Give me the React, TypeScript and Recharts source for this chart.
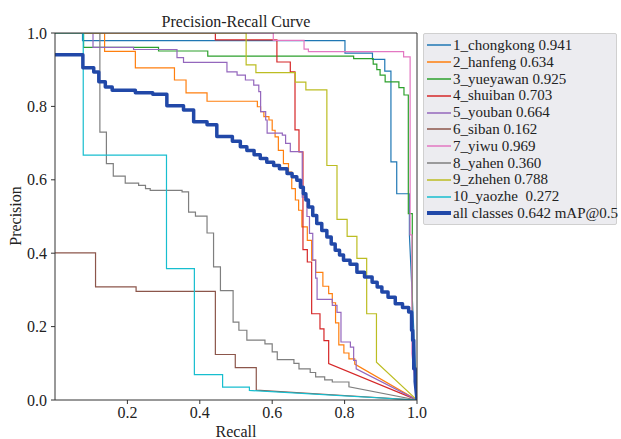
import { LineChart, Line, XAxis, YAxis, ReferenceLine } from 'recharts';

const FONT = "'Liberation Serif', 'DejaVu Serif', serif";

// class names + AP@0.5 as printed in the legend
const classNames = [
  '1_chongkong', '2_hanfeng', '3_yueyawan', '4_shuiban', '5_youban',
  '6_siban', '7_yiwu', '8_yahen', '9_zhehen', '10_yaozhe',
];
const apValues = ['0.941', '0.634', '0.925', '0.703', '0.664', '0.162', '0.969', '0.360', '0.788', '0.272'];
const mapAll = '0.642';

const COLORS = [
  '#1f77b4', '#ff7f0e', '#2ca02c', '#d62728', '#9467bd',
  '#8c564b', '#e377c2', '#7f7f7f', '#bcbd22', '#17becf',
];
const ALL_COLOR = '#2148a8';

// each curve: recall where precision steps down, and the precision after the step
const chongkongRecall = [0, 0.076, 0.801, 0.877, 0.911, 0.928, 0.944, 0.979];
const chongkongPrecision = [1, 0.979, 0.945, 0.928, 0.896, 0.649, 0.562, 0.45];

const hanfengRecall = [0, 0.137, 0.222, 0.330, 0.362, 0.420, 0.559, 0.568, 0.577, 0.591, 0.600, 0.608, 0.617, 0.631, 0.645, 0.654, 0.664, 0.673, 0.682, 0.697, 0.709, 0.720, 0.740, 0.756, 0.766, 0.775, 0.784, 0.798, 0.812, 0.828];
const hanfengPrecision = [1, 0.950, 0.905, 0.872, 0.837, 0.814, 0.799, 0.786, 0.772, 0.763, 0.735, 0.717, 0.680, 0.644, 0.621, 0.576, 0.545, 0.517, 0.472, 0.435, 0.381, 0.348, 0.310, 0.290, 0.265, 0.210, 0.150, 0.128, 0.112, 0.098];

const yueyawanRecall = [0, 0.079, 0.286, 0.422, 0.825, 0.879, 0.889, 0.898, 0.912, 0.950, 0.964, 0.976, 0.987];
const yueyawanPrecision = [1, 0.961, 0.951, 0.937, 0.930, 0.915, 0.900, 0.885, 0.867, 0.851, 0.831, 0.508, 0.176];

const shuibanRecall = [0, 0.443, 0.613, 0.650, 0.663, 0.674, 0.685, 0.697, 0.709, 0.732, 0.743, 0.756];
const shuibanPrecision = [1, 0.981, 0.921, 0.894, 0.736, 0.676, 0.410, 0.376, 0.235, 0.194, 0.162, 0.099];

const youbanRecall = [0, 0.105, 0.217, 0.337, 0.355, 0.475, 0.503, 0.526, 0.549, 0.563, 0.568, 0.582, 0.586, 0.628, 0.637, 0.650, 0.683, 0.696, 0.703, 0.712, 0.720, 0.724, 0.766, 0.779, 0.790, 0.816, 0.825, 0.832];
const youbanPrecision = [1, 0.961, 0.955, 0.933, 0.920, 0.894, 0.885, 0.872, 0.858, 0.840, 0.786, 0.763, 0.727, 0.722, 0.699, 0.677, 0.553, 0.500, 0.454, 0.381, 0.332, 0.274, 0.258, 0.239, 0.158, 0.144, 0.108, 0.085];

const sibanRecall = [0, 0.112, 0.224, 0.443, 0.498, 0.556];
const sibanPrecision = [0.401, 0.308, 0.296, 0.124, 0.088, 0.027];

const yiwuRecall = [0, 0.603, 0.688, 0.700, 0.963, 0.981, 0.986];
const yiwuPrecision = [1, 0.980, 0.956, 0.949, 0.935, 0.450, 0.126];

const yahenRecall = [0, 0.124, 0.142, 0.161, 0.194, 0.231, 0.250, 0.263, 0.351, 0.369, 0.388, 0.420, 0.438, 0.457, 0.492, 0.508, 0.530, 0.580, 0.600, 0.614, 0.660, 0.674, 0.705, 0.720, 0.745, 0.766, 0.812];
const yahenPrecision = [1, 0.730, 0.644, 0.610, 0.591, 0.585, 0.576, 0.571, 0.567, 0.512, 0.501, 0.455, 0.363, 0.298, 0.212, 0.190, 0.163, 0.153, 0.131, 0.110, 0.100, 0.085, 0.075, 0.063, 0.055, 0.049, 0.036];

const zhehenRecall = [0, 0.528, 0.555, 0.664, 0.693, 0.751, 0.779, 0.807, 0.834, 0.861, 0.888];
const zhehenPrecision = [1, 0.913, 0.892, 0.866, 0.845, 0.639, 0.492, 0.446, 0.386, 0.235, 0.103];

const yaozheRecall = [0, 0.078, 0.308, 0.385, 0.463, 0.537];
const yaozhePrecision = [1, 0.667, 0.358, 0.069, 0.035, 0.026];

const allRecall = [0, 0.077, 0.107, 0.121, 0.139, 0.158, 0.222, 0.270, 0.309, 0.355, 0.383, 0.420, 0.447, 0.490, 0.512, 0.530, 0.550, 0.567, 0.585, 0.604, 0.620, 0.641, 0.655, 0.668, 0.678, 0.686, 0.693, 0.700, 0.712, 0.723, 0.737, 0.751, 0.763, 0.774, 0.786, 0.797, 0.815, 0.834, 0.855, 0.876, 0.890, 0.903, 0.920, 0.940, 0.960, 0.977, 0.985, 0.988, 0.991, 0.995];
const allPrecision = [0.941, 0.905, 0.894, 0.867, 0.853, 0.844, 0.837, 0.833, 0.802, 0.790, 0.758, 0.750, 0.718, 0.705, 0.690, 0.680, 0.668, 0.658, 0.648, 0.639, 0.630, 0.617, 0.608, 0.599, 0.580, 0.562, 0.545, 0.526, 0.503, 0.481, 0.462, 0.444, 0.425, 0.408, 0.395, 0.381, 0.370, 0.348, 0.335, 0.321, 0.308, 0.294, 0.280, 0.262, 0.252, 0.240, 0.190, 0.163, 0.085, 0.050];

const xTicks = [0.2, 0.4, 0.6, 0.8, 1.0];
const yTicks = [0, 0.2, 0.4, 0.6, 0.8, 1.0];

// turn step breakpoints into polyline vertices, ending at (1, 0) like the yolo plot
const toSteps = (recall: number[], precision: number[]) => {
  const pts: { r: number; p: number }[] = [];
  recall.forEach((r, i) => {
    if (i > 0) pts.push({ r, p: precision[i - 1] });
    pts.push({ r, p: precision[i] });
  });
  pts.push({ r: 1, p: 0 });
  return pts;
};

const classCurves = [
  toSteps(chongkongRecall, chongkongPrecision),
  toSteps(hanfengRecall, hanfengPrecision),
  toSteps(yueyawanRecall, yueyawanPrecision),
  toSteps(shuibanRecall, shuibanPrecision),
  toSteps(youbanRecall, youbanPrecision),
  toSteps(sibanRecall, sibanPrecision),
  toSteps(yiwuRecall, yiwuPrecision),
  toSteps(yahenRecall, yahenPrecision),
  toSteps(zhehenRecall, zhehenPrecision),
  toSteps(yaozheRecall, yaozhePrecision),
];
const allCurve = toSteps(allRecall, allPrecision);

const legendItems = [
  ...classNames.map((n, i) => ({
    label: n === '10_yaozhe' ? `${n}  ${apValues[i]}` : `${n} ${apValues[i]}`,
    color: COLORS[i],
    width: 1.5,
  })),
  { label: `all classes ${mapAll} mAP@0.5`, color: ALL_COLOR, width: 4 },
];

const RecallLabel = () => (
  <text x={236} y={437} textAnchor="middle" fontSize={16} fill="#222" fontFamily={FONT}>
    Recall
  </text>
);

const PrecisionLabel = () => (
  <text transform="translate(21,216) rotate(-90)" textAnchor="middle" fontSize={16} fill="#222" fontFamily={FONT}>
    Precision
  </text>
);

const App = () => {
  return (
    <div style={{ position: 'absolute', left: 0, top: 0, width: 621, height: 439, background: '#fff', fontFamily: FONT }}>
      <div style={{ position: 'absolute', left: 55, width: 362, top: 13, textAlign: 'center', fontSize: 16, lineHeight: '18px', color: '#222' }}>
        Precision-Recall Curve
      </div>

      <LineChart width={621} height={439} margin={{ top: 33, right: 204, bottom: 0, left: 5 }}>
        <XAxis
          type="number"
          dataKey="r"
          domain={[0, 1]}
          ticks={xTicks}
          tickFormatter={(v: number) => v.toFixed(1)}
          height={39}
          tickSize={4}
          tickMargin={3}
          axisLine={{ stroke: '#333' }}
          tickLine={{ stroke: '#333' }}
          tick={{ fill: '#222', fontSize: 16, fontFamily: FONT }}
          allowDataOverflow
          label={RecallLabel}
        />
        <YAxis
          type="number"
          dataKey="p"
          domain={[0, 1]}
          ticks={yTicks}
          tickFormatter={(v: number) => v.toFixed(1)}
          width={50}
          tickSize={4}
          tickMargin={4}
          axisLine={{ stroke: '#333' }}
          tickLine={{ stroke: '#333' }}
          tick={{ fill: '#222', fontSize: 16, fontFamily: FONT }}
          allowDataOverflow
          label={PrecisionLabel}
        />
        {classCurves.map((pts, i) => (
          <Line
            key={classNames[i]}
            data={pts}
            dataKey="p"
            type="linear"
            stroke={COLORS[i]}
            strokeWidth={1.2}
            dot={false}
            activeDot={false}
            isAnimationActive={false}
          />
        ))}
        <Line
          data={allCurve}
          dataKey="p"
          type="linear"
          stroke={ALL_COLOR}
          strokeWidth={3.5}
          strokeLinejoin="round"
          dot={false}
          activeDot={false}
          isAnimationActive={false}
        />
        <ReferenceLine y={1} stroke="#333" strokeWidth={1} />
        <ReferenceLine x={1} stroke="#333" strokeWidth={1} />
      </LineChart>

      <div
        style={{
          position: 'absolute',
          left: 423,
          top: 33,
          width: 194,
          height: 192,
          boxSizing: 'border-box',
          background: '#ececf0',
          border: '1px solid #d0d0d0',
          borderRadius: 2,
          paddingTop: 3,
        }}
      >
        {legendItems.map((item) => (
          <div key={item.label} style={{ display: 'flex', alignItems: 'center', height: 16.8, whiteSpace: 'pre' }}>
            <svg width={28} height={10} style={{ flex: 'none' }}>
              <line x1={3} x2={27} y1={5} y2={5} stroke={item.color} strokeWidth={item.width} />
            </svg>
            <span style={{ fontSize: 15, lineHeight: '16.8px', color: '#222', marginLeft: 1 }}>{item.label}</span>
          </div>
        ))}
      </div>
    </div>
  );
};

export default App;
